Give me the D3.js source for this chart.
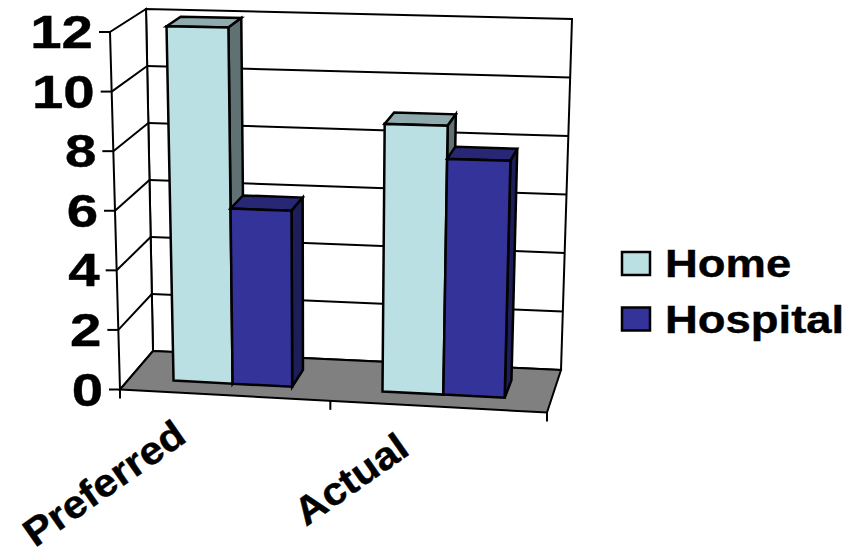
<!DOCTYPE html>
<html>
<head>
<meta charset="utf-8">
<style>
html, body { margin: 0; padding: 0; background: #fff; }
svg { display: block; }
text { font-family: "Liberation Sans", Arial, sans-serif; font-weight: bold; fill: #000; stroke: #000; stroke-width: 0.4; }
</style>
<script src="https://cdnjs.cloudflare.com/ajax/libs/d3/7.8.5/d3.min.js"></script>
</head>
<body>
<svg id="chart" width="856" height="552"></svg>
<script>
const categories = ["Preferred", "Actual"];
const seriesNames = ["Home", "Hospital"];
const homeValues = [12, 8.9];
const hospitalValues = [5.9, 7.8];
const valueTicks = [0, 2, 4, 6, 8, 10, 12];

const seriesColors = {
  Home: { front: "#BBE0E3", top: "#8FABAD", side: "#5F7173" },
  Hospital: { front: "#333399", top: "#272776", side: "#1D1D58" }
};

// Screen corners of the chart box: [front/back][left/right] at value 0 and at the top value.
const box = {
  base: { fl: [120, 389.5], fr: [547, 412.5], bl: [153, 351], br: [561, 370] },
  top: { fl: [110, 32], fr: [558, 40.5], bl: [146, 9], br: [572, 19] }
};
const perspective = 0.03;

const svg = d3.select("#chart");
const value = d3.scaleLinear().domain([0, 12]).range([0, 1]);
const catBand = d3.scaleBand().domain(categories).range([0, 1]);
const seriesBand = d3.scaleBand().domain(seriesNames).range([0, catBand.bandwidth()])
  .paddingInner(0).paddingOuter(0.75);
const depthBand = d3.scaleBand().domain(["row"]).range([0, 1]).paddingOuter(0.69);

const mix = (a, b, t) => [a[0] + (b[0] - a[0]) * t, a[1] + (b[1] - a[1]) * t];

// Maps across (0-1), depth (0-1) and value (0-1) to a screen position.
function project(u, d, v) {
  const w = u / (1 + perspective * (1 - u));
  const level = k => mix(mix(box[k].fl, box[k].fr, w), mix(box[k].bl, box[k].br, w), d);
  return mix(level("base"), level("top"), v);
}

const outline = d3.line().curve(d3.curveLinearClosed);

function face(corners, fill, width) {
  svg.append("path")
    .attr("d", outline(corners))
    .attr("fill", fill)
    .attr("stroke", "#000")
    .attr("stroke-width", width)
    .attr("stroke-linejoin", "miter");
}

function rule(a, b, width) {
  svg.append("line")
    .attr("x1", a[0]).attr("y1", a[1])
    .attr("x2", b[0]).attr("y2", b[1])
    .attr("stroke", "#000")
    .attr("stroke-width", width);
}

// Back and side walls with their gridlines
face([project(0, 1, 0), project(1, 1, 0), project(1, 1, 1), project(0, 1, 1)], "#fff", 2);
face([project(0, 0, 0), project(0, 1, 0), project(0, 1, 1), project(0, 0, 1)], "#fff", 2);
valueTicks.slice(1, -1).forEach(t => {
  const v = value(t);
  rule(project(0, 0, v), project(0, 1, v), 2);
  rule(project(0, 1, v), project(1, 1, v), 2);
});

// Floor
face([project(0, 0, 0), project(1, 0, 0), project(1, 1, 0), project(0, 1, 0)], "#808080", 2);

// Value ticks and labels along the front left edge
valueTicks.forEach(t => {
  const p = project(0, 0, value(t));
  rule([p[0] - 11, p[1]], p, 2);
  svg.append("text")
    .attr("transform", `translate(${p[0] - 17},${p[1] + 16}) scale(1.2,1)`)
    .attr("text-anchor", "end")
    .attr("font-size", 47)
    .text(t);
});

// Category ticks below the front floor edge
[0, 0.5, 1].forEach(u => {
  const p = project(u, 0, 0);
  rule(p, [p[0], p[1] + 9], 2);
});

// Bars, drawn back-to-front within each category
const valuesBySeries = { Home: homeValues, Hospital: hospitalValues };
const d0 = depthBand("row");
const d1 = d0 + depthBand.bandwidth();
categories.forEach((cat, i) => {
  seriesNames.forEach(name => {
    const u0 = catBand(cat) + seriesBand(name);
    const u1 = u0 + seriesBand.bandwidth();
    const v = value(valuesBySeries[name][i]);
    const c = seriesColors[name];
    face([project(u0, d0, v), project(u1, d0, v), project(u1, d1, v), project(u0, d1, v)], c.top, 2.5);
    face([project(u1, d0, 0), project(u1, d1, 0), project(u1, d1, v), project(u1, d0, v)], c.side, 2.5);
    face([project(u0, d0, 0), project(u1, d0, 0), project(u1, d0, v), project(u0, d0, v)], c.front, 2.5);
  });
});

// Slanted category labels
const categoryAnchors = { Preferred: [35, 548], Actual: [306, 527] };
categories.forEach(cat => {
  const a = categoryAnchors[cat];
  svg.append("text")
    .attr("transform", `translate(${a[0]},${a[1]}) rotate(-35) scale(1.08,1)`)
    .attr("font-size", 39)
    .text(cat);
});

// Legend
const legendY = d3.scalePoint().domain(seriesNames).range([263.5, 319]);
seriesNames.forEach(name => {
  const y = legendY(name);
  svg.append("rect")
    .attr("x", 622).attr("y", y - 11.5)
    .attr("width", 28).attr("height", 23)
    .attr("fill", seriesColors[name].front)
    .attr("stroke", "#000").attr("stroke-width", 2.5);
  svg.append("text")
    .attr("transform", `translate(665,${y + 13.5}) scale(1.15,1)`)
    .attr("font-size", 39.5)
    .text(name);
});
</script>
</body>
</html>
